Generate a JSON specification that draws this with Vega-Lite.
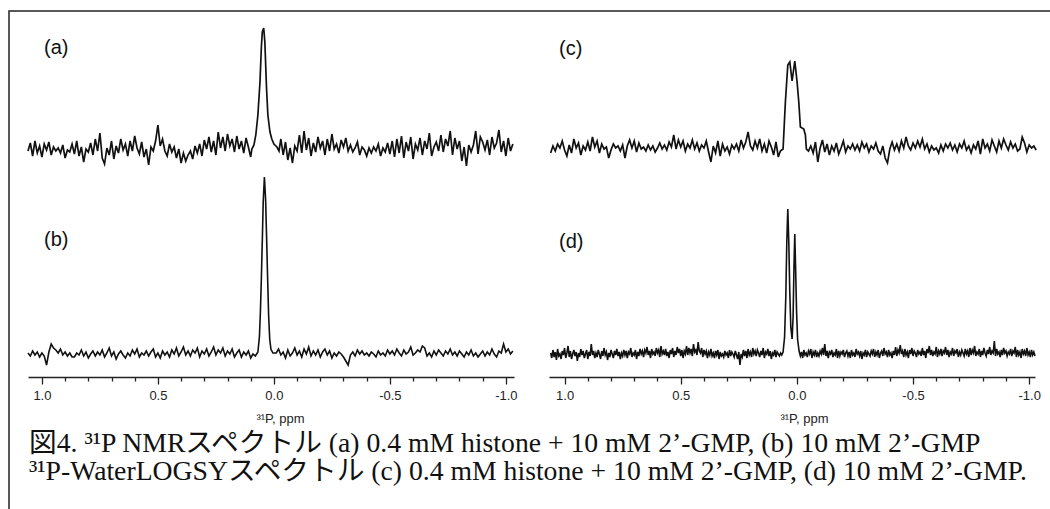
{
"$schema": "https://vega.github.io/schema/vega-lite/v6.json",
"padding": {"left": 8, "top": 10, "right": 0, "bottom": 0},
"background": "white",
"bounds": "flush",
"spacing": 0,
"config": {"view": {"stroke": null}},
"datasets": {
"a": [
{"x":1.06,"y":226},{"x":1.05,"y":234},{"x":1.04,"y":221},{"x":1.03,"y":236},{"x":1.02,"y":224},{"x":1.01,"y":231},{"x":1.0,"y":220},{"x":0.99,"y":233},{"x":0.98,"y":227},{"x":0.97,"y":235},
{"x":0.96,"y":222},{"x":0.95,"y":230},{"x":0.94,"y":226},{"x":0.93,"y":229},{"x":0.92,"y":224},{"x":0.91,"y":232},{"x":0.9,"y":219},{"x":0.89,"y":227},{"x":0.88,"y":225},{"x":0.87,"y":233},
{"x":0.86,"y":223},{"x":0.85,"y":236},{"x":0.84,"y":221},{"x":0.83,"y":230},{"x":0.82,"y":215},{"x":0.81,"y":228},{"x":0.8,"y":225},{"x":0.79,"y":234},{"x":0.78,"y":222},{"x":0.77,"y":238},
{"x":0.76,"y":226},{"x":0.75,"y":244},{"x":0.74,"y":219},{"x":0.73,"y":213},{"x":0.72,"y":229},{"x":0.71,"y":222},{"x":0.7,"y":236},{"x":0.69,"y":218},{"x":0.68,"y":231},{"x":0.67,"y":224},
{"x":0.66,"y":238},{"x":0.65,"y":227},{"x":0.64,"y":233},{"x":0.63,"y":221},{"x":0.62,"y":236},{"x":0.61,"y":226},{"x":0.6,"y":241},{"x":0.59,"y":229},{"x":0.58,"y":223},{"x":0.57,"y":235},
{"x":0.56,"y":220},{"x":0.55,"y":228},{"x":0.54,"y":212},{"x":0.53,"y":230},{"x":0.52,"y":226},{"x":0.51,"y":236},{"x":0.5,"y":252},{"x":0.49,"y":231},{"x":0.48,"y":238},{"x":0.47,"y":226},
{"x":0.46,"y":221},{"x":0.45,"y":233},{"x":0.44,"y":225},{"x":0.43,"y":230},{"x":0.42,"y":219},{"x":0.41,"y":228},{"x":0.4,"y":214},{"x":0.39,"y":224},{"x":0.38,"y":216},{"x":0.37,"y":222},
{"x":0.36,"y":226},{"x":0.35,"y":218},{"x":0.34,"y":231},{"x":0.33,"y":224},{"x":0.32,"y":233},{"x":0.31,"y":221},{"x":0.3,"y":237},{"x":0.29,"y":228},{"x":0.28,"y":240},{"x":0.27,"y":225},
{"x":0.26,"y":236},{"x":0.25,"y":222},{"x":0.24,"y":245},{"x":0.23,"y":229},{"x":0.22,"y":240},{"x":0.21,"y":226},{"x":0.2,"y":243},{"x":0.19,"y":231},{"x":0.18,"y":238},{"x":0.17,"y":225},
{"x":0.16,"y":241},{"x":0.15,"y":228},{"x":0.14,"y":236},{"x":0.13,"y":224},{"x":0.12,"y":239},{"x":0.11,"y":230},{"x":0.1,"y":220},
{"x":0.095,"y":228},{"x":0.086,"y":232},{"x":0.078,"y":242},{"x":0.069,"y":262},{"x":0.06,"y":295},{"x":0.054,"y":330},{"x":0.05,"y":345},{"x":0.044,"y":349},{"x":0.039,"y":335},{"x":0.032,"y":290},{"x":0.026,"y":262},{"x":0.017,"y":245},{"x":0.009,"y":238},{"x":0.0,"y":233},{"x":-0.013,"y":230},{"x":-0.022,"y":226},
{"x":-0.03,"y":238},{"x":-0.04,"y":222},{"x":-0.05,"y":235},{"x":-0.06,"y":217},{"x":-0.07,"y":229},{"x":-0.08,"y":214},{"x":-0.09,"y":231},{"x":-0.1,"y":226},{"x":-0.11,"y":242},{"x":-0.12,"y":224},
{"x":-0.13,"y":246},{"x":-0.14,"y":227},{"x":-0.15,"y":239},{"x":-0.16,"y":221},{"x":-0.17,"y":234},{"x":-0.18,"y":225},{"x":-0.19,"y":240},{"x":-0.2,"y":229},{"x":-0.21,"y":236},{"x":-0.22,"y":222},
{"x":-0.23,"y":238},{"x":-0.24,"y":226},{"x":-0.25,"y":243},{"x":-0.26,"y":228},{"x":-0.27,"y":233},{"x":-0.28,"y":224},{"x":-0.29,"y":237},{"x":-0.3,"y":230},{"x":-0.31,"y":239},{"x":-0.32,"y":226},
{"x":-0.33,"y":232},{"x":-0.34,"y":225},{"x":-0.35,"y":229},{"x":-0.36,"y":235},{"x":-0.37,"y":222},{"x":-0.38,"y":230},{"x":-0.39,"y":227},{"x":-0.4,"y":221},{"x":-0.41,"y":229},{"x":-0.42,"y":224},
{"x":-0.43,"y":230},{"x":-0.44,"y":226},{"x":-0.45,"y":233},{"x":-0.46,"y":221},{"x":-0.47,"y":229},{"x":-0.48,"y":225},{"x":-0.49,"y":234},{"x":-0.5,"y":223},{"x":-0.51,"y":236},{"x":-0.52,"y":220},
{"x":-0.53,"y":238},{"x":-0.54,"y":224},{"x":-0.55,"y":241},{"x":-0.56,"y":219},{"x":-0.57,"y":235},{"x":-0.58,"y":226},{"x":-0.59,"y":240},{"x":-0.6,"y":218},{"x":-0.61,"y":233},{"x":-0.62,"y":227},
{"x":-0.63,"y":239},{"x":-0.64,"y":222},{"x":-0.65,"y":236},{"x":-0.66,"y":228},{"x":-0.67,"y":244},{"x":-0.68,"y":221},{"x":-0.69,"y":230},{"x":-0.7,"y":235},{"x":-0.71,"y":226},{"x":-0.72,"y":242},
{"x":-0.73,"y":225},{"x":-0.74,"y":238},{"x":-0.75,"y":231},{"x":-0.76,"y":246},{"x":-0.77,"y":222},{"x":-0.78,"y":239},{"x":-0.79,"y":228},{"x":-0.8,"y":236},{"x":-0.81,"y":216},{"x":-0.82,"y":230},
{"x":-0.83,"y":211},{"x":-0.84,"y":232},{"x":-0.85,"y":225},{"x":-0.86,"y":232},{"x":-0.87,"y":246},{"x":-0.88,"y":223},{"x":-0.89,"y":240},{"x":-0.9,"y":235},{"x":-0.91,"y":227},{"x":-0.92,"y":237},
{"x":-0.93,"y":222},{"x":-0.94,"y":240},{"x":-0.95,"y":229},{"x":-0.96,"y":234},{"x":-0.97,"y":247},{"x":-0.98,"y":225},{"x":-0.99,"y":236},{"x":-1.0,"y":221},{"x":-1.01,"y":239},{"x":-1.02,"y":226},{"x":-1.03,"y":233}
],
"b": [
{"x":1.06,"y":24},{"x":1.05,"y":21},{"x":1.04,"y":26},{"x":1.03,"y":22},{"x":1.02,"y":25},{"x":1.01,"y":20},{"x":1.0,"y":24},{"x":0.99,"y":21},{"x":0.98,"y":12},{"x":0.97,"y":25},
{"x":0.96,"y":33},{"x":0.95,"y":29},{"x":0.94,"y":27},{"x":0.93,"y":24},{"x":0.92,"y":28},{"x":0.91,"y":22},{"x":0.9,"y":25},{"x":0.89,"y":21},{"x":0.88,"y":24},{"x":0.87,"y":20},
{"x":0.86,"y":20},{"x":0.85,"y":24},{"x":0.84,"y":22},{"x":0.83,"y":27},{"x":0.82,"y":21},{"x":0.81,"y":25},{"x":0.8,"y":19},{"x":0.79,"y":23},{"x":0.78,"y":26},{"x":0.77,"y":21},
{"x":0.76,"y":25},{"x":0.75,"y":22},{"x":0.74,"y":27},{"x":0.73,"y":20},{"x":0.72,"y":24},{"x":0.71,"y":29},{"x":0.7,"y":21},{"x":0.69,"y":25},{"x":0.68,"y":18},{"x":0.67,"y":23},
{"x":0.66,"y":26},{"x":0.65,"y":22},{"x":0.64,"y":19},{"x":0.63,"y":24},{"x":0.62,"y":21},{"x":0.61,"y":27},{"x":0.6,"y":23},{"x":0.59,"y":28},{"x":0.58,"y":20},{"x":0.57,"y":24},
{"x":0.56,"y":22},{"x":0.55,"y":26},{"x":0.54,"y":21},{"x":0.53,"y":25},{"x":0.52,"y":28},{"x":0.51,"y":20},{"x":0.5,"y":24},{"x":0.49,"y":19},{"x":0.48,"y":26},{"x":0.47,"y":22},
{"x":0.46,"y":25},{"x":0.45,"y":20},{"x":0.44,"y":27},{"x":0.43,"y":23},{"x":0.42,"y":29},{"x":0.41,"y":21},{"x":0.4,"y":25},{"x":0.39,"y":30},{"x":0.38,"y":22},{"x":0.37,"y":26},
{"x":0.36,"y":21},{"x":0.35,"y":27},{"x":0.34,"y":24},{"x":0.33,"y":29},{"x":0.32,"y":20},{"x":0.31,"y":26},{"x":0.3,"y":23},{"x":0.29,"y":28},{"x":0.28,"y":21},{"x":0.27,"y":25},
{"x":0.26,"y":30},{"x":0.25,"y":22},{"x":0.24,"y":27},{"x":0.23,"y":24},{"x":0.22,"y":29},{"x":0.21,"y":21},{"x":0.2,"y":26},{"x":0.19,"y":23},{"x":0.18,"y":28},{"x":0.17,"y":20},
{"x":0.16,"y":24},{"x":0.15,"y":27},{"x":0.14,"y":20},{"x":0.13,"y":25},{"x":0.12,"y":22},{"x":0.11,"y":26},{"x":0.1,"y":19},{"x":0.09,"y":23},{"x":0.08,"y":21},
{"x":0.069,"y":25},{"x":0.0625,"y":40},{"x":0.0582,"y":65},{"x":0.0539,"y":100},{"x":0.0496,"y":140},{"x":0.0461,"y":175},{"x":0.0409,"y":200},{"x":0.0358,"y":178},{"x":0.0315,"y":140},{"x":0.0272,"y":100},{"x":0.0228,"y":62},{"x":0.0181,"y":38},{"x":0.0129,"y":28},{"x":0.0043,"y":24},
{"x":-0.01,"y":24},{"x":-0.02,"y":28},{"x":-0.03,"y":22},{"x":-0.04,"y":25},{"x":-0.05,"y":19},{"x":-0.06,"y":27},{"x":-0.07,"y":21},{"x":-0.08,"y":24},{"x":-0.09,"y":29},
{"x":-0.1,"y":22},{"x":-0.11,"y":26},{"x":-0.12,"y":20},{"x":-0.13,"y":28},{"x":-0.14,"y":23},{"x":-0.15,"y":30},{"x":-0.16,"y":21},{"x":-0.17,"y":26},{"x":-0.18,"y":22},{"x":-0.19,"y":27},
{"x":-0.2,"y":20},{"x":-0.21,"y":25},{"x":-0.22,"y":28},{"x":-0.23,"y":22},{"x":-0.24,"y":26},{"x":-0.25,"y":19},{"x":-0.26,"y":24},{"x":-0.27,"y":21},{"x":-0.28,"y":25},{"x":-0.29,"y":23},
{"x":-0.3,"y":20},{"x":-0.31,"y":16},{"x":-0.32,"y":12},{"x":-0.33,"y":22},{"x":-0.34,"y":25},{"x":-0.35,"y":21},{"x":-0.36,"y":27},{"x":-0.37,"y":23},{"x":-0.38,"y":26},{"x":-0.39,"y":22},
{"x":-0.4,"y":24},{"x":-0.41,"y":21},{"x":-0.42,"y":25},{"x":-0.43,"y":23},{"x":-0.44,"y":20},{"x":-0.45,"y":26},{"x":-0.46,"y":22},{"x":-0.47,"y":24},{"x":-0.48,"y":21},{"x":-0.49,"y":27},
{"x":-0.5,"y":23},{"x":-0.51,"y":26},{"x":-0.52,"y":22},{"x":-0.53,"y":28},{"x":-0.54,"y":24},{"x":-0.55,"y":21},{"x":-0.56,"y":27},{"x":-0.57,"y":23},{"x":-0.58,"y":25},{"x":-0.59,"y":30},
{"x":-0.6,"y":22},{"x":-0.61,"y":24},{"x":-0.62,"y":27},{"x":-0.63,"y":25},{"x":-0.64,"y":31},{"x":-0.65,"y":29},{"x":-0.66,"y":21},{"x":-0.67,"y":24},{"x":-0.68,"y":20},{"x":-0.69,"y":26},
{"x":-0.7,"y":22},{"x":-0.71,"y":27},{"x":-0.72,"y":24},{"x":-0.73,"y":21},{"x":-0.74,"y":26},{"x":-0.75,"y":23},{"x":-0.76,"y":28},{"x":-0.77,"y":22},{"x":-0.78,"y":25},{"x":-0.79,"y":21},
{"x":-0.8,"y":26},{"x":-0.81,"y":23},{"x":-0.82,"y":20},{"x":-0.83,"y":25},{"x":-0.84,"y":22},{"x":-0.85,"y":27},{"x":-0.86,"y":21},{"x":-0.87,"y":24},{"x":-0.88,"y":20},{"x":-0.89,"y":23},
{"x":-0.9,"y":26},{"x":-0.91,"y":21},{"x":-0.92,"y":25},{"x":-0.93,"y":22},{"x":-0.94,"y":28},{"x":-0.95,"y":23},{"x":-0.96,"y":20},{"x":-0.97,"y":26},{"x":-0.98,"y":24},{"x":-0.99,"y":33},
{"x":-1.0,"y":25},{"x":-1.01,"y":28},{"x":-1.02,"y":23},{"x":-1.03,"y":26}
],
"c": [
{"x":1.06,"y":224},{"x":1.05,"y":231},{"x":1.04,"y":226},{"x":1.03,"y":233},{"x":1.02,"y":229},{"x":1.01,"y":236},{"x":1.0,"y":227},{"x":0.99,"y":221},{"x":0.98,"y":232},{"x":0.97,"y":224},
{"x":0.96,"y":238},{"x":0.95,"y":229},{"x":0.94,"y":234},{"x":0.93,"y":222},{"x":0.92,"y":231},{"x":0.91,"y":227},{"x":0.9,"y":235},{"x":0.89,"y":226},{"x":0.88,"y":240},{"x":0.87,"y":230},
{"x":0.86,"y":236},{"x":0.85,"y":224},{"x":0.84,"y":233},{"x":0.83,"y":228},{"x":0.82,"y":230},{"x":0.81,"y":219},{"x":0.8,"y":227},{"x":0.79,"y":233},{"x":0.78,"y":229},{"x":0.77,"y":231},
{"x":0.76,"y":226},{"x":0.75,"y":232},{"x":0.74,"y":219},{"x":0.73,"y":231},{"x":0.72,"y":237},{"x":0.71,"y":229},{"x":0.7,"y":236},{"x":0.69,"y":225},{"x":0.68,"y":234},{"x":0.67,"y":228},
{"x":0.66,"y":230},{"x":0.65,"y":226},{"x":0.64,"y":232},{"x":0.63,"y":227},{"x":0.62,"y":231},{"x":0.61,"y":225},{"x":0.6,"y":229},{"x":0.59,"y":234},{"x":0.58,"y":228},{"x":0.57,"y":232},
{"x":0.56,"y":227},{"x":0.55,"y":235},{"x":0.54,"y":230},{"x":0.53,"y":242},{"x":0.52,"y":228},{"x":0.51,"y":237},{"x":0.5,"y":230},{"x":0.49,"y":236},{"x":0.48,"y":226},{"x":0.47,"y":233},
{"x":0.46,"y":229},{"x":0.45,"y":237},{"x":0.44,"y":228},{"x":0.43,"y":234},{"x":0.42,"y":226},{"x":0.41,"y":232},{"x":0.4,"y":229},{"x":0.39,"y":236},{"x":0.38,"y":225},{"x":0.37,"y":215},
{"x":0.36,"y":231},{"x":0.35,"y":224},{"x":0.34,"y":236},{"x":0.33,"y":221},{"x":0.32,"y":233},{"x":0.31,"y":226},{"x":0.3,"y":230},{"x":0.29,"y":223},{"x":0.28,"y":232},{"x":0.27,"y":228},
{"x":0.26,"y":233},{"x":0.25,"y":226},{"x":0.24,"y":237},{"x":0.23,"y":229},{"x":0.22,"y":235},{"x":0.21,"y":245},{"x":0.2,"y":231},{"x":0.19,"y":227},{"x":0.18,"y":236},{"x":0.17,"y":229},
{"x":0.16,"y":238},{"x":0.15,"y":226},{"x":0.14,"y":233},{"x":0.13,"y":224},{"x":0.12,"y":236},{"x":0.11,"y":230},{"x":0.1,"y":222},{"x":0.09,"y":235},{"x":0.08,"y":220},
{"x":0.071,"y":226},{"x":0.0594,"y":228},{"x":0.0495,"y":275},{"x":0.0391,"y":312},{"x":0.0305,"y":315},{"x":0.0206,"y":296},{"x":0.009,"y":316},{"x":-0.0009,"y":295},{"x":-0.0082,"y":275},{"x":-0.0151,"y":250},{"x":-0.0297,"y":248},{"x":-0.0366,"y":242},{"x":-0.0409,"y":228},
{"x":-0.05,"y":226},{"x":-0.06,"y":231},{"x":-0.07,"y":224},{"x":-0.08,"y":235},{"x":-0.09,"y":215},{"x":-0.1,"y":229},{"x":-0.11,"y":237},{"x":-0.12,"y":225},{"x":-0.13,"y":233},{"x":-0.14,"y":222},
{"x":-0.15,"y":231},{"x":-0.16,"y":226},{"x":-0.17,"y":234},{"x":-0.18,"y":223},{"x":-0.19,"y":229},{"x":-0.2,"y":236},{"x":-0.21,"y":225},{"x":-0.22,"y":231},{"x":-0.23,"y":228},{"x":-0.24,"y":233},
{"x":-0.25,"y":227},{"x":-0.26,"y":232},{"x":-0.27,"y":226},{"x":-0.28,"y":235},{"x":-0.29,"y":229},{"x":-0.3,"y":233},{"x":-0.31,"y":225},{"x":-0.32,"y":231},{"x":-0.33,"y":228},{"x":-0.34,"y":234},
{"x":-0.35,"y":226},{"x":-0.36,"y":223},{"x":-0.37,"y":231},{"x":-0.38,"y":219},{"x":-0.39,"y":214},{"x":-0.4,"y":228},{"x":-0.41,"y":235},{"x":-0.42,"y":227},{"x":-0.43,"y":233},{"x":-0.44,"y":226},
{"x":-0.45,"y":236},{"x":-0.46,"y":229},{"x":-0.47,"y":240},{"x":-0.48,"y":231},{"x":-0.49,"y":227},{"x":-0.5,"y":234},{"x":-0.51,"y":229},{"x":-0.52,"y":236},{"x":-0.53,"y":230},{"x":-0.54,"y":238},
{"x":-0.55,"y":228},{"x":-0.56,"y":233},{"x":-0.57,"y":225},{"x":-0.58,"y":231},{"x":-0.59,"y":227},{"x":-0.6,"y":229},{"x":-0.61,"y":224},{"x":-0.62,"y":232},{"x":-0.63,"y":226},{"x":-0.64,"y":233},
{"x":-0.65,"y":229},{"x":-0.66,"y":234},{"x":-0.67,"y":227},{"x":-0.68,"y":232},{"x":-0.69,"y":225},{"x":-0.7,"y":233},{"x":-0.71,"y":229},{"x":-0.72,"y":236},{"x":-0.73,"y":227},{"x":-0.74,"y":231},
{"x":-0.75,"y":224},{"x":-0.76,"y":232},{"x":-0.77,"y":228},{"x":-0.78,"y":236},{"x":-0.79,"y":223},{"x":-0.8,"y":238},{"x":-0.81,"y":229},{"x":-0.82,"y":233},{"x":-0.83,"y":226},{"x":-0.84,"y":237},
{"x":-0.85,"y":231},{"x":-0.86,"y":225},{"x":-0.87,"y":236},{"x":-0.88,"y":229},{"x":-0.89,"y":238},{"x":-0.9,"y":232},{"x":-0.91,"y":227},{"x":-0.92,"y":235},{"x":-0.93,"y":229},{"x":-0.94,"y":233},
{"x":-0.95,"y":226},{"x":-0.96,"y":228},{"x":-0.97,"y":240},{"x":-0.98,"y":234},{"x":-0.99,"y":225},{"x":-1.0,"y":232},{"x":-1.01,"y":229},{"x":-1.02,"y":231},{"x":-1.03,"y":227}
],
"d": [
{"x":1.06,"y":24},{"x":1.055,"y":19},{"x":1.05,"y":27},{"x":1.045,"y":20},{"x":1.04,"y":25},{"x":1.035,"y":17},{"x":1.03,"y":28},{"x":1.025,"y":21},{"x":1.02,"y":23},{"x":1.015,"y":18},{"x":1.01,"y":26},{"x":1.005,"y":22},{"x":1.0,"y":29},{"x":0.995,"y":19},{"x":0.99,"y":24},{"x":0.985,"y":31},{"x":0.98,"y":20},{"x":0.975,"y":26},{"x":0.97,"y":18},{"x":0.965,"y":23},
{"x":0.96,"y":27},{"x":0.955,"y":21},{"x":0.95,"y":25},{"x":0.945,"y":16},{"x":0.94,"y":24},{"x":0.935,"y":20},{"x":0.93,"y":28},{"x":0.925,"y":22},{"x":0.92,"y":26},{"x":0.915,"y":19},{"x":0.91,"y":23},{"x":0.905,"y":27},{"x":0.9,"y":18},{"x":0.895,"y":25},{"x":0.89,"y":21},{"x":0.885,"y":33},{"x":0.88,"y":22},{"x":0.875,"y":26},{"x":0.87,"y":19},{"x":0.865,"y":24},
{"x":0.86,"y":20},{"x":0.855,"y":27},{"x":0.85,"y":23},{"x":0.845,"y":18},{"x":0.84,"y":26},{"x":0.835,"y":21},{"x":0.83,"y":29},{"x":0.825,"y":22},{"x":0.82,"y":25},{"x":0.815,"y":17},{"x":0.81,"y":24},{"x":0.805,"y":20},{"x":0.8,"y":27},{"x":0.795,"y":23},{"x":0.79,"y":19},{"x":0.785,"y":26},{"x":0.78,"y":22},{"x":0.775,"y":28},{"x":0.77,"y":21},{"x":0.765,"y":25},
{"x":0.76,"y":18},{"x":0.755,"y":24},{"x":0.75,"y":21},{"x":0.745,"y":27},{"x":0.74,"y":22},{"x":0.735,"y":26},{"x":0.73,"y":19},{"x":0.725,"y":25},{"x":0.72,"y":23},{"x":0.715,"y":29},{"x":0.71,"y":20},{"x":0.705,"y":24},{"x":0.7,"y":22},{"x":0.695,"y":27},{"x":0.69,"y":18},{"x":0.685,"y":25},{"x":0.68,"y":21},{"x":0.675,"y":28},{"x":0.67,"y":23},{"x":0.665,"y":26},
{"x":0.66,"y":20},{"x":0.655,"y":27},{"x":0.65,"y":24},{"x":0.645,"y":30},{"x":0.64,"y":22},{"x":0.635,"y":26},{"x":0.63,"y":19},{"x":0.625,"y":28},{"x":0.62,"y":23},{"x":0.615,"y":25},{"x":0.61,"y":21},{"x":0.605,"y":29},{"x":0.6,"y":24},{"x":0.595,"y":27},{"x":0.59,"y":20},{"x":0.585,"y":31},{"x":0.58,"y":23},{"x":0.575,"y":26},{"x":0.57,"y":22},{"x":0.565,"y":28},
{"x":0.56,"y":21},{"x":0.555,"y":25},{"x":0.55,"y":19},{"x":0.545,"y":27},{"x":0.54,"y":23},{"x":0.535,"y":29},{"x":0.53,"y":20},{"x":0.525,"y":26},{"x":0.52,"y":22},{"x":0.515,"y":30},{"x":0.51,"y":24},{"x":0.505,"y":28},{"x":0.5,"y":21},{"x":0.495,"y":27},{"x":0.49,"y":19},{"x":0.485,"y":26},{"x":0.48,"y":23},{"x":0.475,"y":31},{"x":0.47,"y":22},{"x":0.465,"y":29},
{"x":0.46,"y":24},{"x":0.455,"y":28},{"x":0.45,"y":21},{"x":0.445,"y":33},{"x":0.44,"y":25},{"x":0.435,"y":27},{"x":0.43,"y":22},{"x":0.425,"y":35},{"x":0.42,"y":26},{"x":0.415,"y":24},{"x":0.41,"y":29},{"x":0.405,"y":20},{"x":0.4,"y":27},{"x":0.395,"y":23},{"x":0.39,"y":26},{"x":0.385,"y":19},{"x":0.38,"y":25},{"x":0.375,"y":22},{"x":0.37,"y":28},{"x":0.365,"y":21},
{"x":0.36,"y":24},{"x":0.355,"y":19},{"x":0.35,"y":26},{"x":0.345,"y":22},{"x":0.34,"y":27},{"x":0.335,"y":18},{"x":0.33,"y":25},{"x":0.325,"y":21},{"x":0.32,"y":23},{"x":0.315,"y":20},{"x":0.31,"y":26},{"x":0.305,"y":22},{"x":0.3,"y":24},{"x":0.295,"y":19},{"x":0.29,"y":27},{"x":0.285,"y":21},{"x":0.28,"y":25},{"x":0.275,"y":23},{"x":0.27,"y":20},{"x":0.265,"y":26},
{"x":0.26,"y":22},{"x":0.255,"y":18},{"x":0.25,"y":25},{"x":0.245,"y":12},{"x":0.24,"y":23},{"x":0.235,"y":20},{"x":0.23,"y":27},{"x":0.225,"y":21},{"x":0.22,"y":26},{"x":0.215,"y":19},{"x":0.21,"y":28},{"x":0.205,"y":22},{"x":0.2,"y":25},{"x":0.195,"y":20},{"x":0.19,"y":29},{"x":0.185,"y":23},{"x":0.18,"y":26},{"x":0.175,"y":21},{"x":0.17,"y":27},{"x":0.165,"y":24},
{"x":0.16,"y":20},{"x":0.155,"y":26},{"x":0.15,"y":22},{"x":0.145,"y":29},{"x":0.14,"y":19},{"x":0.135,"y":25},{"x":0.13,"y":23},{"x":0.125,"y":28},{"x":0.12,"y":21},{"x":0.115,"y":26},{"x":0.11,"y":18},{"x":0.105,"y":24},{"x":0.1,"y":22},{"x":0.095,"y":27},{"x":0.09,"y":20},{"x":0.085,"y":25},{"x":0.08,"y":23},{"x":0.075,"y":21},{"x":0.07,"y":24},{"x":0.065,"y":22},
{"x":0.0594,"y":25},{"x":0.0529,"y":40},{"x":0.0477,"y":80},{"x":0.0434,"y":135},{"x":0.0391,"y":168},{"x":0.0348,"y":135},{"x":0.0305,"y":85},{"x":0.0262,"y":50},{"x":0.0206,"y":38},{"x":0.0163,"y":60},{"x":0.0125,"y":110},{"x":0.009,"y":143},{"x":0.0056,"y":110},{"x":0.0013,"y":65},{"x":-0.003,"y":38},{"x":-0.0095,"y":26},
{"x":-0.015,"y":21},{"x":-0.02,"y":25},{"x":-0.025,"y":19},{"x":-0.03,"y":27},{"x":-0.035,"y":22},{"x":-0.04,"y":24},{"x":-0.045,"y":20},{"x":-0.05,"y":26},{"x":-0.055,"y":23},{"x":-0.06,"y":28},{"x":-0.065,"y":19},{"x":-0.07,"y":25},{"x":-0.075,"y":22},{"x":-0.08,"y":27},{"x":-0.085,"y":20},{"x":-0.09,"y":24},{"x":-0.095,"y":21},{"x":-0.1,"y":26},{"x":-0.105,"y":23},{"x":-0.11,"y":29},
{"x":-0.115,"y":22},{"x":-0.12,"y":33},{"x":-0.125,"y":21},{"x":-0.13,"y":26},{"x":-0.135,"y":19},{"x":-0.14,"y":25},{"x":-0.145,"y":23},{"x":-0.15,"y":27},{"x":-0.155,"y":20},{"x":-0.16,"y":24},{"x":-0.165,"y":22},{"x":-0.17,"y":28},{"x":-0.175,"y":19},{"x":-0.18,"y":26},{"x":-0.185,"y":21},{"x":-0.19,"y":25},{"x":-0.195,"y":23},{"x":-0.2,"y":27},{"x":-0.205,"y":20},{"x":-0.21,"y":24},
{"x":-0.215,"y":26},{"x":-0.22,"y":21},{"x":-0.225,"y":25},{"x":-0.23,"y":19},{"x":-0.235,"y":27},{"x":-0.24,"y":22},{"x":-0.245,"y":24},{"x":-0.25,"y":20},{"x":-0.255,"y":28},{"x":-0.26,"y":23},{"x":-0.265,"y":25},{"x":-0.27,"y":21},{"x":-0.275,"y":26},{"x":-0.28,"y":18},{"x":-0.285,"y":24},{"x":-0.29,"y":22},{"x":-0.295,"y":27},{"x":-0.3,"y":20},{"x":-0.305,"y":25},{"x":-0.31,"y":23},
{"x":-0.315,"y":21},{"x":-0.32,"y":26},{"x":-0.325,"y":23},{"x":-0.33,"y":28},{"x":-0.335,"y":20},{"x":-0.34,"y":25},{"x":-0.345,"y":22},{"x":-0.35,"y":27},{"x":-0.355,"y":19},{"x":-0.36,"y":24},{"x":-0.365,"y":26},{"x":-0.37,"y":21},{"x":-0.375,"y":29},{"x":-0.38,"y":23},{"x":-0.385,"y":25},{"x":-0.39,"y":20},{"x":-0.395,"y":27},{"x":-0.4,"y":22},{"x":-0.405,"y":24},{"x":-0.41,"y":19},
{"x":-0.415,"y":26},{"x":-0.42,"y":22},{"x":-0.425,"y":30},{"x":-0.43,"y":21},{"x":-0.435,"y":27},{"x":-0.44,"y":24},{"x":-0.445,"y":32},{"x":-0.45,"y":23},{"x":-0.455,"y":26},{"x":-0.46,"y":20},{"x":-0.465,"y":28},{"x":-0.47,"y":22},{"x":-0.475,"y":25},{"x":-0.48,"y":19},{"x":-0.485,"y":27},{"x":-0.49,"y":23},{"x":-0.495,"y":29},{"x":-0.5,"y":21},{"x":-0.505,"y":26},{"x":-0.51,"y":24},
{"x":-0.515,"y":20},{"x":-0.52,"y":27},{"x":-0.525,"y":23},{"x":-0.53,"y":25},{"x":-0.535,"y":21},{"x":-0.54,"y":29},{"x":-0.545,"y":22},{"x":-0.55,"y":26},{"x":-0.555,"y":19},{"x":-0.56,"y":28},{"x":-0.565,"y":24},{"x":-0.57,"y":31},{"x":-0.575,"y":22},{"x":-0.58,"y":27},{"x":-0.585,"y":21},{"x":-0.59,"y":25},{"x":-0.595,"y":23},{"x":-0.6,"y":30},{"x":-0.605,"y":20},{"x":-0.61,"y":26},
{"x":-0.615,"y":23},{"x":-0.62,"y":28},{"x":-0.625,"y":21},{"x":-0.63,"y":26},{"x":-0.635,"y":24},{"x":-0.64,"y":30},{"x":-0.645,"y":22},{"x":-0.65,"y":27},{"x":-0.655,"y":20},{"x":-0.66,"y":25},{"x":-0.665,"y":23},{"x":-0.67,"y":29},{"x":-0.675,"y":21},{"x":-0.68,"y":26},{"x":-0.685,"y":24},{"x":-0.69,"y":28},{"x":-0.695,"y":20},{"x":-0.7,"y":25},{"x":-0.705,"y":22},{"x":-0.71,"y":27},
{"x":-0.715,"y":24},{"x":-0.72,"y":21},{"x":-0.725,"y":28},{"x":-0.73,"y":23},{"x":-0.735,"y":26},{"x":-0.74,"y":20},{"x":-0.745,"y":29},{"x":-0.75,"y":22},{"x":-0.755,"y":27},{"x":-0.76,"y":24},{"x":-0.765,"y":31},{"x":-0.77,"y":21},{"x":-0.775,"y":25},{"x":-0.78,"y":23},{"x":-0.785,"y":28},{"x":-0.79,"y":20},{"x":-0.795,"y":26},{"x":-0.8,"y":22},{"x":-0.805,"y":29},{"x":-0.81,"y":24},
{"x":-0.815,"y":21},{"x":-0.82,"y":27},{"x":-0.825,"y":23},{"x":-0.83,"y":30},{"x":-0.835,"y":22},{"x":-0.84,"y":26},{"x":-0.845,"y":24},{"x":-0.85,"y":36},{"x":-0.855,"y":21},{"x":-0.86,"y":28},{"x":-0.865,"y":23},{"x":-0.87,"y":25},{"x":-0.875,"y":20},{"x":-0.88,"y":27},{"x":-0.885,"y":22},{"x":-0.89,"y":29},{"x":-0.895,"y":24},{"x":-0.9,"y":26},{"x":-0.905,"y":21},{"x":-0.91,"y":25},
{"x":-0.915,"y":23},{"x":-0.92,"y":28},{"x":-0.925,"y":21},{"x":-0.93,"y":26},{"x":-0.935,"y":24},{"x":-0.94,"y":30},{"x":-0.945,"y":20},{"x":-0.95,"y":27},{"x":-0.955,"y":22},{"x":-0.96,"y":25},{"x":-0.965,"y":19},{"x":-0.97,"y":28},{"x":-0.975,"y":23},{"x":-0.98,"y":26},{"x":-0.985,"y":21},{"x":-0.99,"y":29},{"x":-0.995,"y":22},{"x":-1.0,"y":25},{"x":-1.005,"y":20},{"x":-1.01,"y":27},
{"x":-1.015,"y":22},{"x":-1.02,"y":25},{"x":-1.025,"y":21}
]
},
"vconcat": [
{"width": 1042, "height": 0.01, "view": {"stroke": "#222", "strokeWidth": 1.5}, "data": {"values": []}, "mark": "point"},
{"hconcat": [
  {"width": 0.01, "height": 499, "view": {"stroke": "#222", "strokeWidth": 1.5}, "data": {"values": []}, "mark": "point"},
  {"hconcat": [
    {"width": 486, "height": 365,
     "title": {"text": ["図4. ³¹P NMRスペクトル (a) 0.4 mM histone + 10 mM 2’-GMP, (b) 10 mM 2’-GMP", "³¹P-WaterLOGSYスペクトル (c) 0.4 mM histone + 10 mM 2’-GMP, (d) 10 mM 2’-GMP."], "orient": "bottom", "anchor": "start", "frame": "group", "offset": 5, "dx": 1, "font": "Liberation Serif, Noto Sans CJK JP", "fontSize": 27.7, "fontWeight": "normal", "color": "#111", "lineHeight": 28},
     "encoding": {
       "x": {"field": "x", "type": "quantitative",
         "scale": {"domain": [-1.035, 1.06], "reverse": true, "nice": false, "zero": false},
         "axis": {"values": [1,0.9,0.8,0.7,0.6,0.5,0.4,0.3,0.2,0.1,0,-0.1,-0.2,-0.3,-0.4,-0.5,-0.6,-0.7,-0.8,-0.9,-1],
           "tickSize": {"condition": {"test": "abs(datum.value*2 - round(datum.value*2)) < 0.001", "value": 7}, "value": 4},
           "labelExpr": "abs(datum.value*2 - round(datum.value*2)) < 0.001 ? (datum.value < -0.001 ? '-' : '') + format(abs(datum.value), '.1f') : ''",
           "labelFont": "Liberation Sans", "labelFontSize": 13, "labelColor": "#222", "labelPadding": 5, "labelFlush": false, "labelOverlap": false,
           "domainColor": "#222", "domainWidth": 1.5, "tickColor": "#222", "tickWidth": 1.3, "grid": false,
           "title": "³¹P, ppm", "titleFont": "Liberation Sans", "titleFontSize": 13, "titleFontWeight": "normal", "titleColor": "#222", "titlePadding": 10, "titleX": 252}},
       "y": {"field": "y", "type": "quantitative", "scale": {"domain": [0, 365], "nice": false, "zero": false}, "axis": null}
     },
     "layer": [
       {"data": {"name": "a"}, "mark": {"type": "line", "stroke": "#111", "strokeWidth": 1.7}},
       {"data": {"name": "b"}, "mark": {"type": "line", "stroke": "#111", "strokeWidth": 1.6}},
       {"data": {"values": [{"x": 0.991, "y": 329, "t": "(a)"}, {"x": 0.991, "y": 137, "t": "(b)"}]},
        "mark": {"type": "text", "align": "left", "baseline": "middle", "font": "Liberation Sans", "fontSize": 20, "color": "#111"},
        "encoding": {"text": {"field": "t"}}}
     ]
    },
    {"width": 486, "height": 365,
     "encoding": {
       "x": {"field": "x", "type": "quantitative",
         "scale": {"domain": [-1.025, 1.067], "reverse": true, "nice": false, "zero": false},
         "axis": {"values": [1,0.9,0.8,0.7,0.6,0.5,0.4,0.3,0.2,0.1,0,-0.1,-0.2,-0.3,-0.4,-0.5,-0.6,-0.7,-0.8,-0.9,-1],
           "tickSize": {"condition": {"test": "abs(datum.value*2 - round(datum.value*2)) < 0.001", "value": 7}, "value": 4},
           "labelExpr": "abs(datum.value*2 - round(datum.value*2)) < 0.001 ? (datum.value < -0.001 ? '-' : '') + format(abs(datum.value), '.1f') : ''",
           "labelFont": "Liberation Sans", "labelFontSize": 13, "labelColor": "#222", "labelPadding": 5, "labelFlush": false, "labelOverlap": false,
           "domainColor": "#222", "domainWidth": 1.5, "tickColor": "#222", "tickWidth": 1.3, "grid": false,
           "title": "³¹P, ppm", "titleFont": "Liberation Sans", "titleFontSize": 13, "titleFontWeight": "normal", "titleColor": "#222", "titlePadding": 10, "titleX": 255}},
       "y": {"field": "y", "type": "quantitative", "scale": {"domain": [0, 365], "nice": false, "zero": false}, "axis": null}
     },
     "layer": [
       {"data": {"name": "c"}, "mark": {"type": "line", "stroke": "#111", "strokeWidth": 1.7}},
       {"data": {"name": "d"}, "mark": {"type": "line", "stroke": "#111", "strokeWidth": 1.6}},
       {"data": {"values": [{"x": 1.024, "y": 328, "t": "(c)"}, {"x": 1.024, "y": 135, "t": "(d)"}]},
        "mark": {"type": "text", "align": "left", "baseline": "middle", "font": "Liberation Sans", "fontSize": 20, "color": "#111"},
        "encoding": {"text": {"field": "t"}}}
     ]
    }
  ], "spacing": 35, "bounds": "flush"}
], "spacing": 18, "bounds": "flush"}
]
}
